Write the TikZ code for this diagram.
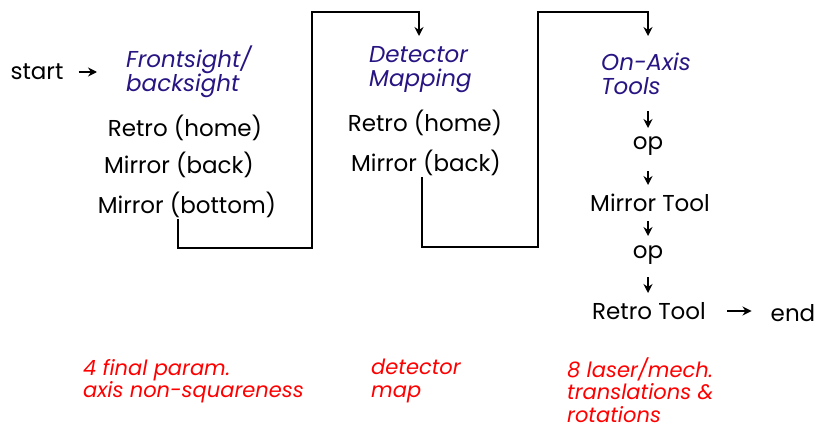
\documentclass[tikz,border=0pt]{standalone}
\usepackage{fontspec}
\setmainfont{Poppins}
\usetikzlibrary{arrows.meta}
\definecolor{navy}{RGB}{40,20,130}
\begin{document}
\begin{tikzpicture}[x=1pt,y=-1pt,
    every node/.style={font=\fontsize{23}{26}\selectfont, inner sep=1pt},
    title/.style={font=\fontsize{23}{24}\selectfont\itshape, text=navy, align=left, anchor=west},
    note/.style={font=\fontsize{21}{22.5}\selectfont\itshape, text=red, align=left, anchor=west},
    link/.style={line width=1.8pt},
    arr/.style={-{Stealth[length=9pt,width=9pt]}, line width=1.8pt}]
    \useasboundingbox (0,0) rectangle (822,428);

    \node (start) at (37,72) {start};
    \node (fb) at (125,72) [title] {Frontsight/\\backsight};
    \node (r1) at (185,128) {Retro (home)};
    \node (m1) at (179,165) {Mirror (back)};
    \node (mb1) at (187,205) {Mirror (bottom)};

    \node (dm) at (368,70) [title] {Detector\\Mapping};
    \node (r2) at (425,123) {Retro (home)};
    \node (m2) at (426,163) {Mirror (back)};

    \node (oa) at (600,74) [title] {On-Axis\\Tools};
    \node (op1) at (648,146) {op};
    \node (mt) at (650,203) {Mirror Tool};
    \node (op2) at (648,255) {op};
    \node (rt) at (649,311) {Retro Tool};
    \node (end) at (793,313) {end};

    \coordinate (in2) at (419,36);
    \coordinate (in3) at (648,36);

    \draw[arr] ([xshift=14pt]start.east) -- ([xshift=-28pt]fb.west |- start.east);
    \draw[link,arr] ([xshift=-9pt]mb1.south) |- (312,248) -- (312,12) -| (in2);
    \draw[link,arr] ([xshift=-4pt]m2.south) |- (538,247) -- (538,12) -| (in3);
    \draw[arr, shorten <=37pt, shorten >=18pt] (oa.center -| op1) -- (op1.center);
    \draw[arr, shorten <=25pt, shorten >=18pt] (op1.center) -- (op1.center |- mt.center);
    \draw[arr, shorten <=18pt, shorten >=19pt] (mt.center -| op1) -- (op2.center);
    \draw[arr, shorten <=22pt, shorten >=18pt] (op2.center) -- (op2.center |- rt.center);
    \draw[arr, shorten <=20pt, shorten >=18pt] (rt.east) -- (end.west |- rt.east);

    \node (n1) at (82,381) [note] {4 final param.\\axis non-squareness};
    \node (n2) at (370,381) [note] {detector\\map};
    \node (n3) at (566,390) [note] {8 laser/mech.\\translations \&\\rotations};
\end{tikzpicture}
\end{document}
